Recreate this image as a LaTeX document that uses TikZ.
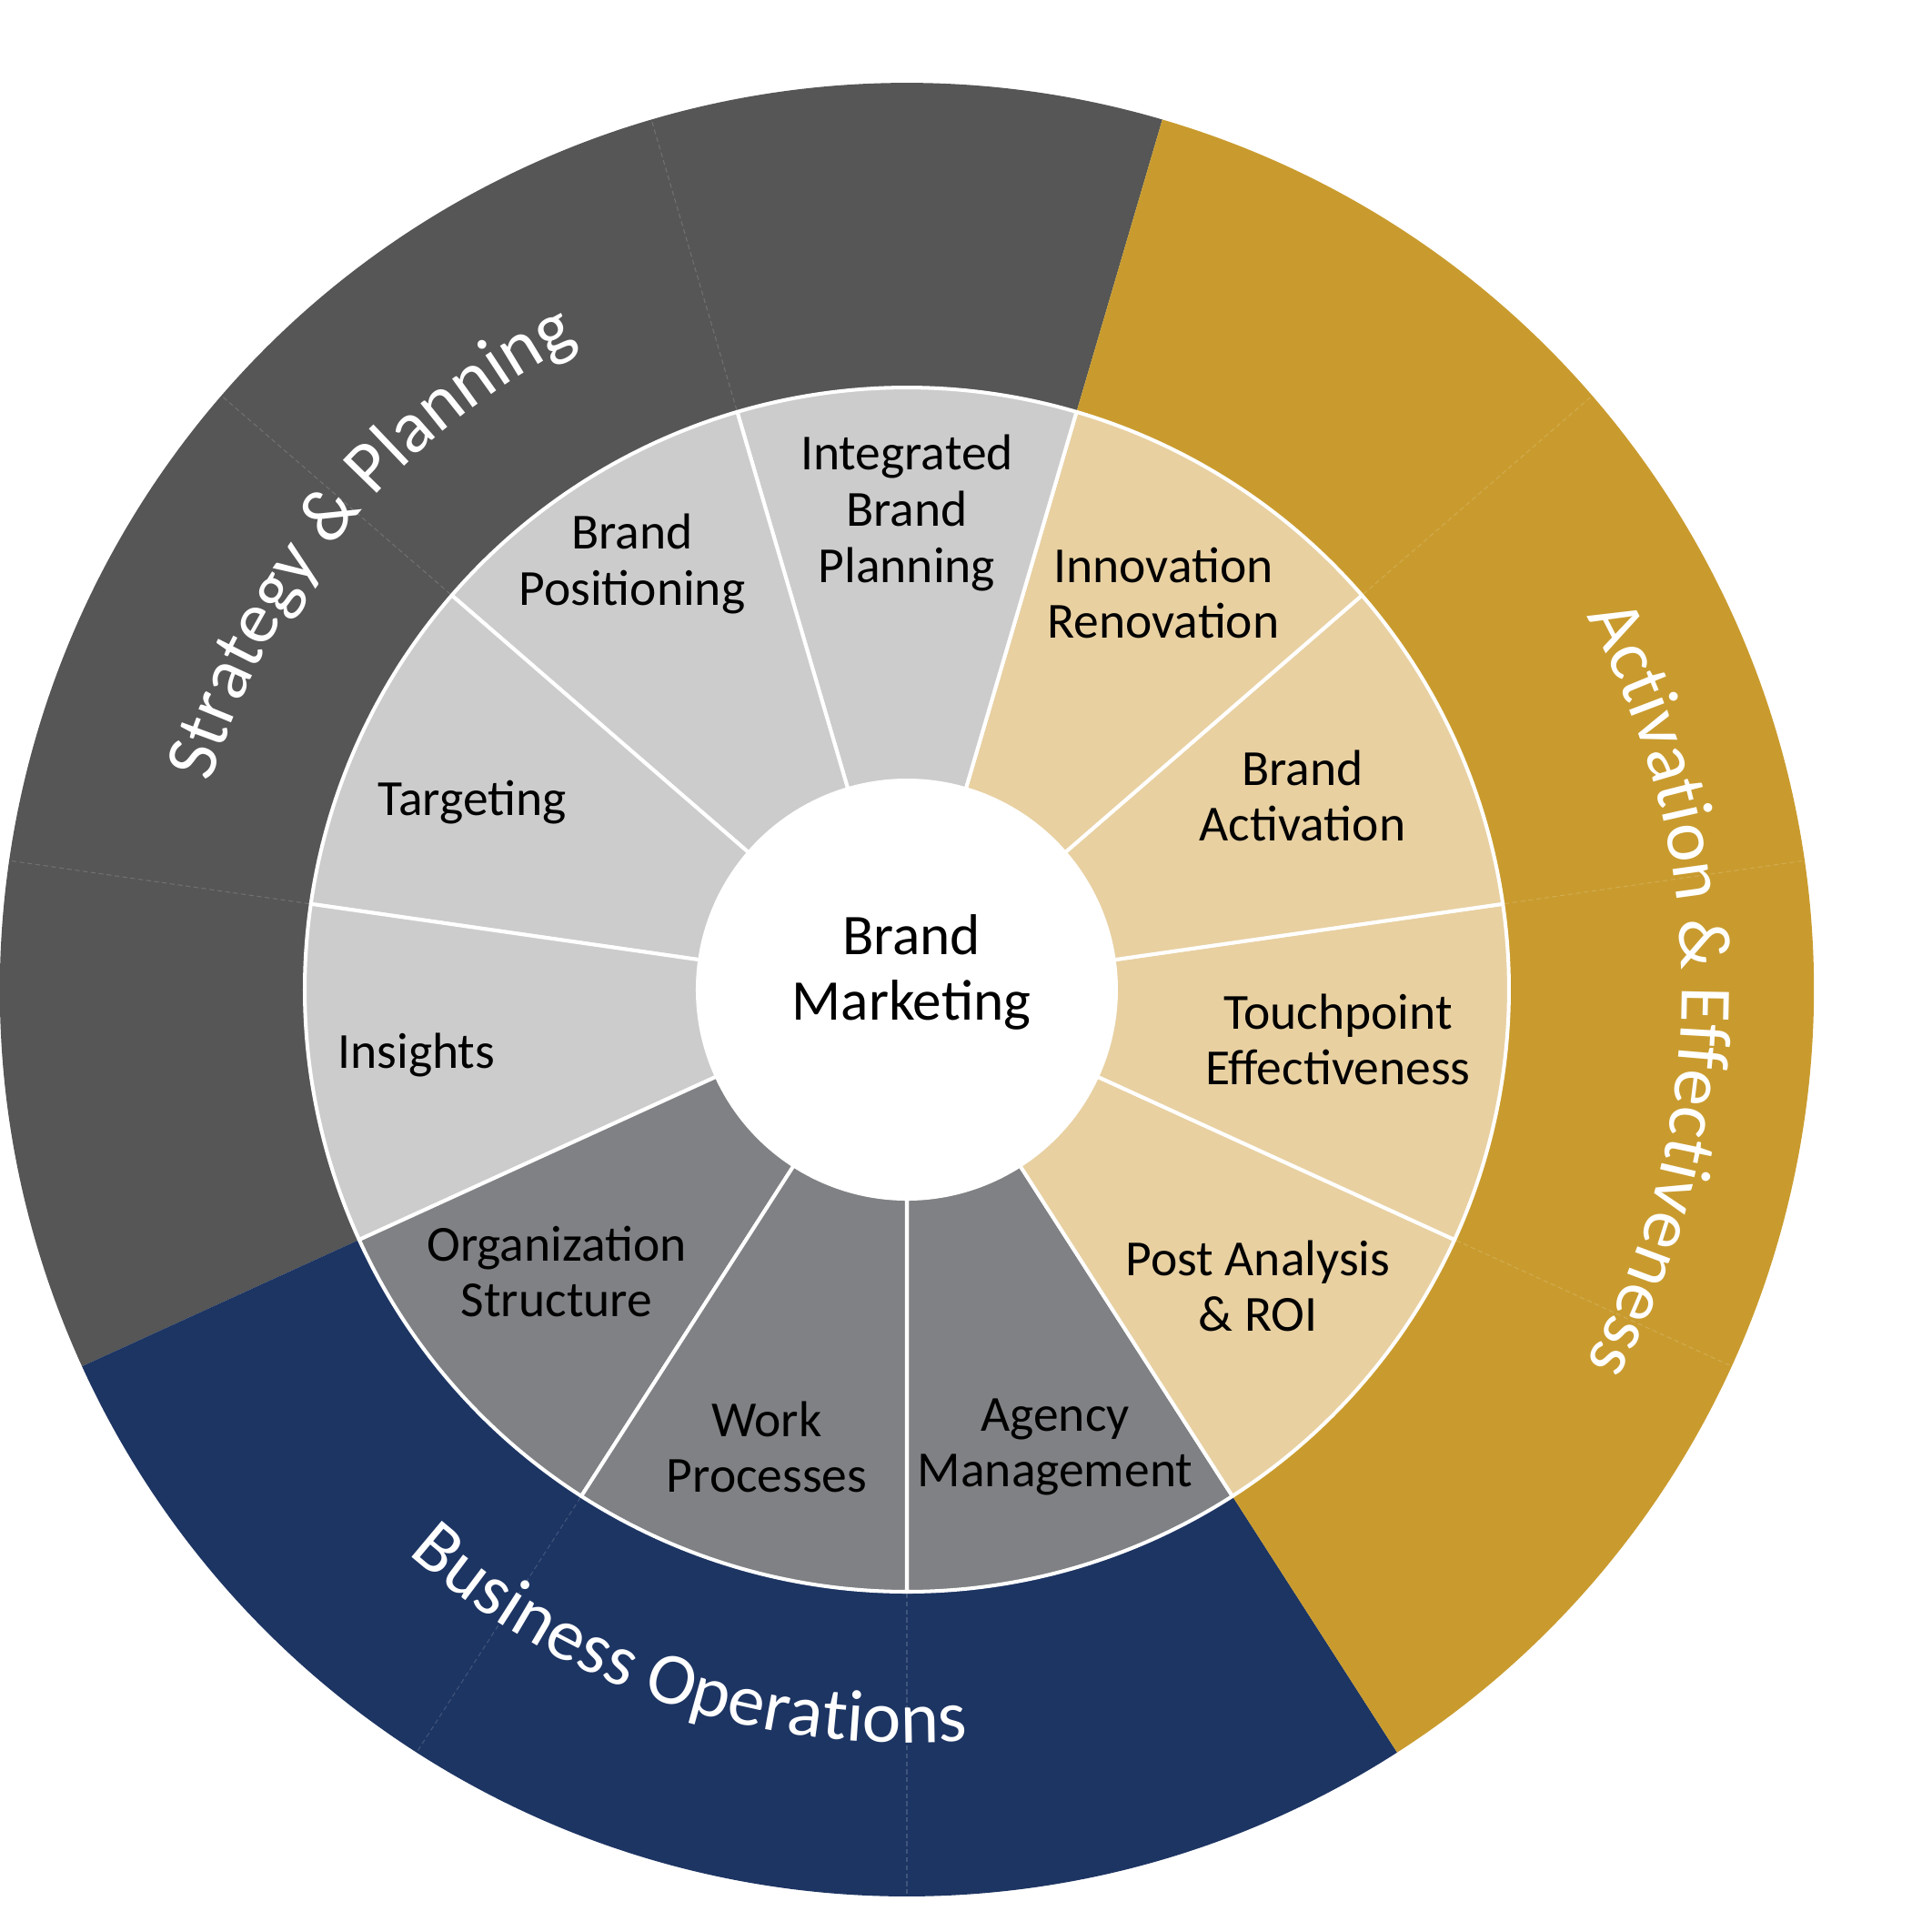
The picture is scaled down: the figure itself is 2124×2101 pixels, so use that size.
\documentclass[tikz,border=0pt]{standalone}
\usepackage{fontspec}
\setmainfont{Carlito}
\usetikzlibrary{decorations.text}
\definecolor{outgray}{RGB}{85,86,85}
\definecolor{outgold}{RGB}{201,155,46}
\definecolor{outnavy}{RGB}{29,53,99}
\definecolor{midlgray}{RGB}{204,204,204}
\definecolor{midgold}{RGB}{232,208,161}
\definecolor{middgray}{RGB}{128,129,132}
\newcommand\ofnt{\fontsize{23}{23}\selectfont\color{white}}
\begin{document}
\begin{tikzpicture}[x=0.1mm,y=0.1mm,
  seg/.style={draw=white, line width=1.15pt, line join=round},
  lab/.style={align=center, inner sep=0pt, text=black, font=\fontsize{15.8}{17.55}\selectfont},
  corelab/.style={align=center, inner sep=0pt, text=black, font=\fontsize{18}{20.4}\selectfont},
  seam/.style={draw=white, draw opacity=0.16, line width=0.3pt, dash pattern=on 1.5pt off 1pt},
  arctext/.style={decorate, decoration={text along path, text align=center, text={#1}}}
]
\useasboundingbox (-997,-1013) rectangle (1127,1088);
% outer ring groups
\foreach \a/\b/\c in {73.636/204.545/outgray, 204.545/302.727/outnavy, -57.273/73.636/outgold}
  \fill[\c] (\a:600) arc[start angle=\a, end angle=\b, radius=600] -- (\b:997) arc[start angle=\b, end angle=\a, radius=997] -- cycle;
% faint seams between outer sections
\foreach \t in {106.364,139.091,171.818,237.273,270,335.455,8.182,40.909}
  \draw[seam] (\t:664) -- (\t:996);
% middle ring
\foreach \k/\c in {0/middgray,1/midgold,2/midgold,3/midgold,4/midgold,5/midlgray,6/midlgray,7/midlgray,8/midlgray,9/middgray,10/middgray} {
  \pgfmathsetmacro\a{270+\k*360/11}
  \pgfmathsetmacro\b{\a+360/11}
  \filldraw[seg, fill=\c] (\a:230) -- (\a:662) arc[start angle=\a, end angle=\b, radius=662] -- (\b:230) arc[start angle=\b, end angle=\a, radius=230] -- cycle;
}
\fill[white] (0,0) circle[radius=231];
% labels
\node[corelab] (core) at (5,19) {Brand\\Marketing};
\node[lab] (integ) at (0,524) {Integrated\\Brand\\Planning};
\node[lab] (posit) at (-302,468) {Brand\\Positioning};
\node[lab] (targ) at (-478,206) {Targeting};
\node[lab] (insig) at (-539,-72) {Insights};
\node[lab] (orgst) at (-385,-310) {Organization\\Structure};
\node[lab] (workp) at (-154,-503) {Work\\Processes};
\node[lab] (agency) at (163,-503) {Agency\\Management};
\node[lab] (postan) at (386,-326) {Post Analysis\\\& ROI};
\node[lab] (touch) at (474,-55) {Touchpoint\\Effectiveness};
\node[lab] (bact) at (435,213) {Brand\\Activation};
\node[lab] (innov) at (282,436) {Innovation\\Renovation};
% outer curved labels
\path[arctext={|\ofnt|Strategy {\&} Planning}] (180.2:798) arc[start angle=180.2, end angle=100.2, radius=798];
\path[arctext={|\ofnt|Activation {\&} Effectiveness}] (42:852) arc[start angle=42, end angle=-42, radius=852];
\path[arctext={|\ofnt|Business Operations}] (211.6:828) arc[start angle=211.6, end angle=291.6, radius=828];
\end{tikzpicture}
\end{document}
